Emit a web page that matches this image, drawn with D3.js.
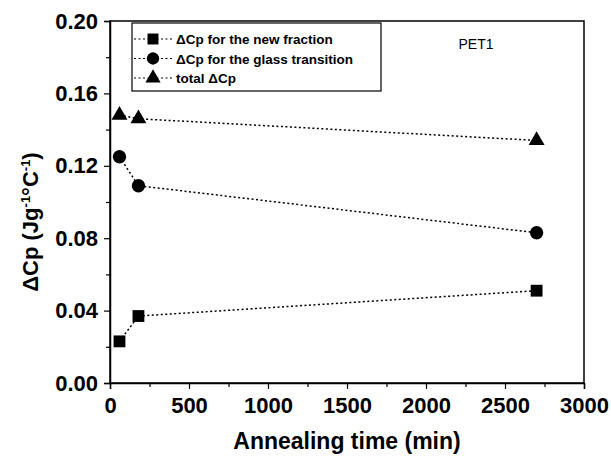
<!DOCTYPE html>
<html><head><meta charset="utf-8">
<script src="https://cdn.jsdelivr.net/npm/d3@7"></script>
<style>body{margin:0;background:#fff;}svg{display:block;font-family:Arial,"Liberation Sans",sans-serif;}</style>
</head><body>
<svg id="c" width="611" height="457"></svg>
<script>
const times = [60, 180, 2700];
const newFraction = [0.023, 0.037, 0.051];
const glassTransition = [0.125, 0.109, 0.083];
const totalCp = [0.148, 0.146, 0.134];
const xTicks = [0, 500, 1000, 1500, 2000, 2500, 3000];
const yTicks = [0.00, 0.04, 0.08, 0.12, 0.16, 0.20];
const seriesNames = ["\u0394Cp for the new fraction", "\u0394Cp for the glass transition", "total \u0394Cp"];
const seriesValues = [newFraction, glassTransition, totalCp];
const seriesSymbols = [d3.symbolSquare, d3.symbolCircle, d3.symbolTriangle];

const svg = d3.select("#c");
const m = {l:110, t:21, r:584, b:383};
const x = d3.scaleLinear().domain([0,3000]).range([m.l, m.r]);
const y = d3.scaleLinear().domain([0,0.2]).range([m.b, m.t]);

// frame
svg.append("rect").attr("x",m.l).attr("y",m.t).attr("width",m.r-m.l).attr("height",m.b-m.t)
  .attr("fill","none").attr("stroke","#000").attr("stroke-width",1.5);

// x axis
const xa = svg.append("g").attr("transform",`translate(0,${m.b})`)
  .call(d3.axisBottom(x).tickValues(xTicks).tickSize(6).tickPadding(8).tickFormat(d3.format("d")));
xa.selectAll("text").attr("font-size",22).attr("font-weight","bold").attr("fill","#000");
svg.append("g").attr("transform",`translate(0,${m.b})`)
  .call(d3.axisBottom(x).tickValues(d3.range(250,3000,500)).tickSize(4).tickFormat(""))
  .select(".domain").remove();

// y axis
const ya = svg.append("g").attr("transform",`translate(${m.l},0)`)
  .call(d3.axisLeft(y).tickValues(yTicks).tickSize(6).tickPadding(6).tickFormat(d3.format(".2f")));
ya.selectAll("text").attr("font-size",22).attr("font-weight","bold").attr("fill","#000");
svg.append("g").attr("transform",`translate(${m.l},0)`)
  .call(d3.axisLeft(y).tickValues(d3.range(0.02,0.2,0.04)).tickSize(4).tickFormat(""))
  .select(".domain").remove();
svg.selectAll(".domain").attr("stroke-width",1.5);
svg.selectAll(".tick line").attr("stroke-width",1.2);

// axis titles
svg.append("text").attr("x",347).attr("y",449).attr("text-anchor","middle")
  .attr("font-size",23).attr("font-weight","bold").text("Annealing time (min)");
const yt = svg.append("text").attr("transform",`translate(38,222) rotate(-90)`)
  .attr("text-anchor","middle").attr("font-size",22).attr("font-weight","bold");
yt.append("tspan").text("\u0394Cp (Jg");
yt.append("tspan").attr("dy",-8).attr("font-size",13).text("-1");
yt.append("tspan").attr("dy",8).text("\u00b0C");
yt.append("tspan").attr("dy",-8).attr("font-size",13).text("-1");
yt.append("tspan").attr("dy",8).text(")");

// series
const line = d3.line().x(d=>x(d[0])).y(d=>y(d[1]));
seriesValues.forEach((vals,i)=>{
  const pts = times.map((t,j)=>[t, vals[j]]);
  svg.append("path").datum(pts).attr("d",line).attr("fill","none")
    .attr("stroke","#000").attr("stroke-width",1.5).attr("stroke-dasharray","2,2.5");
  svg.selectAll(null).data(pts).enter().append("path")
    .attr("transform",d=>`translate(${x(d[0])},${y(d[1])})`)
    .attr("d",d3.symbol().type(seriesSymbols[i]).size(i===2?110:140)).attr("fill","#000");
});

// legend
svg.append("rect").attr("x",132).attr("y",23).attr("width",249).attr("height",68)
  .attr("fill","#fff").attr("stroke","#000").attr("stroke-width",1.2);
seriesNames.forEach((n,i)=>{
  const ly = 39 + i*19.5;
  svg.append("line").attr("x1",134).attr("x2",172).attr("y1",ly).attr("y2",ly)
    .attr("stroke","#000").attr("stroke-width",1.2).attr("stroke-dasharray","2,2.5");
  svg.append("path").attr("transform",`translate(153,${ly})`)
    .attr("d",d3.symbol().type(seriesSymbols[i]).size(i===2?100:120)).attr("fill","#000");
  svg.append("text").attr("x",176).attr("y",ly+5).attr("font-size",13.5).attr("font-weight","bold").text(n);
});

svg.append("text").attr("x",476).attr("y",49).attr("text-anchor","middle").attr("font-size",14).text("PET1");
</script>
</body></html>
